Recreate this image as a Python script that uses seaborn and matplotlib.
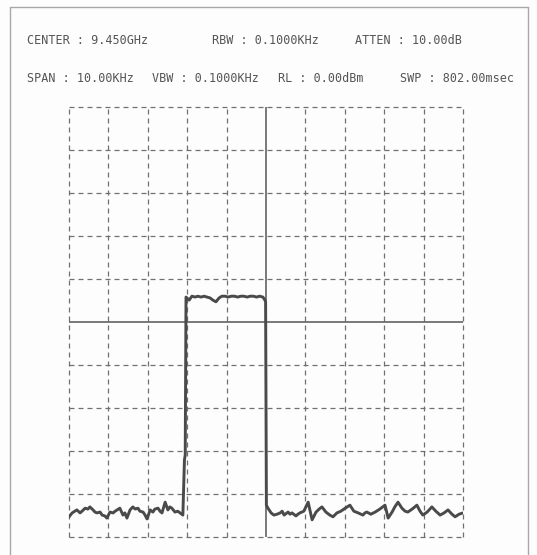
import numpy as np
import pandas as pd
import matplotlib
matplotlib.use("Agg")
import matplotlib.pyplot as plt
import seaborn as sns

# ---- data (frequency offset from centre in kHz, level in dBm) ----
freq_khz = [
    -5.00, -4.92, -4.85, -4.80, -4.72, -4.67, -4.59, -4.52, -4.47, -4.39,
    -4.34, -4.29, -4.21, -4.16, -4.09, -4.04, -3.96, -3.88, -3.83, -3.78,
    -3.71, -3.63, -3.58, -3.53, -3.45, -3.38, -3.32, -3.25, -3.20, -3.12,
    -3.07, -3.02, -2.94, -2.87, -2.82, -2.74, -2.69, -2.64, -2.56, -2.49,
    -2.44, -2.39, -2.31, -2.24, -2.18, -2.11, -2.07, -2.05, -2.03,
    -1.95, -1.88, -1.80, -1.73, -1.65, -1.57, -1.50, -1.42, -1.35, -1.27,
    -1.19, -1.12, -1.04, -0.96, -0.88, -0.80, -0.72, -0.64, -0.56, -0.48,
    -0.40, -0.32, -0.24, -0.16, -0.08, -0.04, -0.01,
    0.01, 0.05, 0.13, 0.20, 0.28, 0.36, 0.41, 0.46, 0.56, 0.61, 0.66, 0.76,
    0.81, 0.86, 0.96, 1.07, 1.17, 1.27, 1.35, 1.42, 1.52, 1.62, 1.70,
    1.80, 1.90, 2.01, 2.13, 2.23, 2.34, 2.46, 2.51, 2.56, 2.66, 2.77,
    2.89, 3.02, 3.10, 3.20, 3.27, 3.35, 3.45, 3.53, 3.60, 3.71,
    3.83, 3.91, 3.98, 4.09, 4.21, 4.31, 4.42, 4.52, 4.62, 4.72,
    4.80, 4.90, 5.00,
]
level_dbm = [
    -95.3, -94.4, -94.0, -93.7, -94.4, -94.0, -93.3, -93.5, -93.0, -93.7,
    -94.2, -94.4, -94.2, -94.9, -95.1, -95.6, -94.2, -94.4, -94.0, -93.7,
    -93.3, -94.9, -94.4, -95.6, -93.7, -93.0, -93.5, -93.3, -94.0, -94.2,
    -94.9, -95.8, -93.7, -94.2, -93.5, -93.3, -94.0, -94.4, -91.9, -93.7,
    -93.0, -93.3, -94.2, -94.0, -94.4, -94.9, -82.1, -80.9, -44.2,
    -44.9, -44.0, -44.2, -44.0, -44.2, -44.0, -44.2, -44.4, -44.9, -45.3,
    -44.4, -44.0, -44.0, -44.2, -44.0, -44.0, -44.2, -44.0, -44.0, -44.2,
    -44.0, -44.0, -44.2, -44.0, -44.2, -44.7, -45.3,
    -92.6, -93.3, -94.4, -94.9, -94.7, -94.4, -94.0, -94.9, -94.2, -94.7, -94.4, -95.1,
    -94.7, -94.4, -94.0, -91.9, -96.0, -94.2, -93.5, -93.0, -94.2, -94.9, -95.3,
    -94.4, -94.0, -93.3, -92.6, -94.0, -94.4, -94.9, -94.4, -94.2, -94.7, -94.2,
    -93.5, -92.6, -95.6, -94.2, -93.0, -91.9, -93.3, -94.0, -94.2, -93.5,
    -92.6, -94.0, -94.9, -94.2, -93.0, -94.0, -94.9, -94.4, -93.7, -94.7,
    -95.3, -94.7, -94.4,
]

header_row1 = ["CENTER : 9.450GHz", "RBW : 0.1000KHz", "ATTEN : 10.00dB"]
header_row2 = ["SPAN : 10.00KHz", "VBW : 0.1000KHz", "RL : 0.00dBm", "SWP : 802.00msec"]

x_grid = list(range(-5, 6))          # kHz divisions
y_grid = list(range(-100, 1, 10))    # dB divisions

df = pd.DataFrame({"freq": freq_khz, "level": level_dbm})

sns.set_style("white")
plt.rcParams["font.family"] = ["DejaVu Sans Mono", "DejaVu Sans"]

W, H = 537, 555
fig = plt.figure(figsize=(W / 100, H / 100), dpi=100)
fig.patch.set_facecolor("#fdfdfd")

ax = fig.add_axes([69 / W, 1 - 537 / H, 394 / W, 430 / H])
ax.set_facecolor("#fdfdfd")

grid_col = "#707070"
for xv in x_grid:
    if xv == 0:
        continue
    ax.axvline(xv, color=grid_col, lw=0.9, ls=(0, (4, 3.2)), clip_on=False, zorder=1)
for yv in y_grid:
    if yv == -50:
        continue
    ax.axhline(yv, color=grid_col, lw=0.9, ls=(0, (4, 3.2)), clip_on=False, zorder=1)
ax.axvline(0, color="#555555", lw=1.1, zorder=2)
ax.axhline(-50, color="#555555", lw=1.1, zorder=2)

sns.lineplot(data=df, x="freq", y="level", sort=False, ax=ax,
             color="#4a4a4a", lw=2.1, zorder=3)

ax.set_xlim(-5, 5)
ax.set_ylim(-100, 0)
ax.set_xticks([])
ax.set_yticks([])
ax.set_xlabel("")
ax.set_ylabel("")
for s in ax.spines.values():
    s.set_visible(False)

# outer frame
frame_col = "#a8a8a8"
fig.add_artist(plt.Line2D([10 / W, 10 / W], [0, 1 - 7 / H], color=frame_col, lw=1.0))
fig.add_artist(plt.Line2D([528 / W, 528 / W], [0, 1 - 7 / H], color=frame_col, lw=1.0))
fig.add_artist(plt.Line2D([10 / W, 528 / W], [1 - 7 / H, 1 - 7 / H], color=frame_col, lw=1.0))

txt_col = "#555555"
fs = 8.5
row1_x = [27, 212, 355]
row2_x = [27, 152, 278, 400]
for t, x in zip(header_row1, row1_x):
    fig.text(x / W, 1 - 40 / H, t, fontsize=fs, color=txt_col, va="center", ha="left")
for t, x in zip(header_row2, row2_x):
    fig.text(x / W, 1 - 78 / H, t, fontsize=fs, color=txt_col, va="center", ha="left")

fig.savefig("out.png", dpi=100, facecolor=fig.get_facecolor())
